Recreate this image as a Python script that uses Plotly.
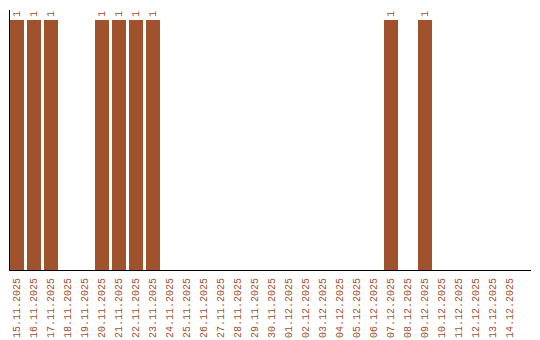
import plotly.graph_objects as go

dates = ["15.11.2025", "16.11.2025", "17.11.2025", "18.11.2025", "19.11.2025",
         "20.11.2025", "21.11.2025", "22.11.2025", "23.11.2025", "24.11.2025",
         "25.11.2025", "26.11.2025", "27.11.2025", "28.11.2025", "29.11.2025",
         "30.11.2025", "01.12.2025", "02.12.2025", "03.12.2025", "04.12.2025",
         "05.12.2025", "06.12.2025", "07.12.2025", "08.12.2025", "09.12.2025",
         "10.12.2025", "11.12.2025", "12.12.2025", "13.12.2025", "14.12.2025"]
counts = [1, 1, 1, 0, 0, 1, 1, 1, 1, 0,
          0, 0, 0, 0, 0, 0, 0, 0, 0, 0,
          0, 0, 1, 0, 1, 0, 0, 0, 0, 0]

color = "#A0522D"
font = dict(family="Liberation Mono, Courier New, monospace", size=10, color=color)

idx = list(range(len(dates)))
labels = [str(v) if v else "" for v in counts]

fig = go.Figure(go.Bar(
    x=idx, y=counts, marker_color=color, marker_line_width=0,
    width=14/17, text=labels, textposition="outside", textangle=-90,
    textfont=font, cliponaxis=False, hoverinfo="skip"))

fig.update_layout(
    width=540, height=340, margin=dict(l=10, r=9, t=10, b=70),
    plot_bgcolor="white", paper_bgcolor="white", showlegend=False,
    font=font, uniformtext=dict(minsize=10, mode="show"))
fig.update_xaxes(range=[-7/17, -7/17 + 521/17], tickmode="array", tickvals=idx,
                 ticktext=dates, tickangle=-90, tickfont=font, showgrid=False,
                 showline=True, linecolor="black", linewidth=1, ticks="",
                 zeroline=False, automargin=False, ticklabelstandoff=3)
fig.update_yaxes(range=[0, 1.04], showticklabels=False, showgrid=False,
                 showline=True, linecolor="black", linewidth=1, ticks="",
                 zeroline=False, automargin=False)

fig.write_html("out.html")
